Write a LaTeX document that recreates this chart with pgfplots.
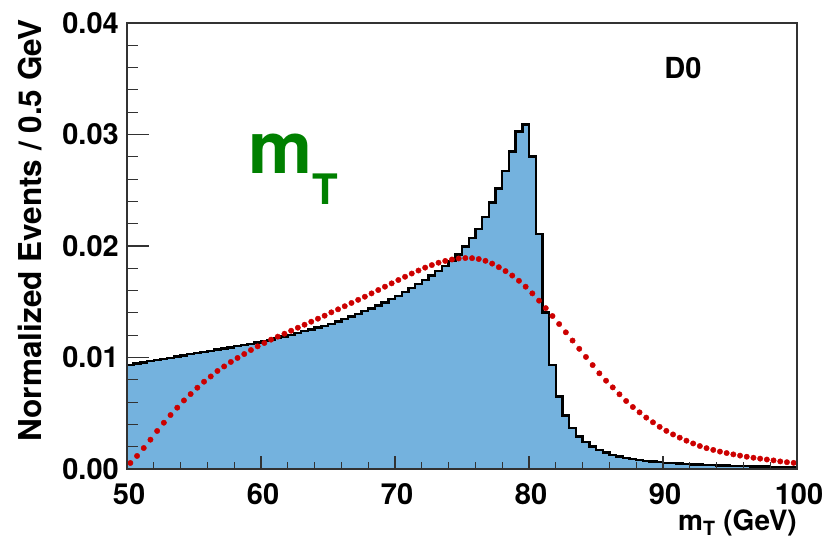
\documentclass[border=0pt]{standalone}
\usepackage{fontspec}
\setmainfont{TeX Gyre Heros}
\usepackage{pgfplots}
\usepackage{pgfplotstable}
\pgfplotsset{compat=1.18}

\definecolor{histblue}{RGB}{116,178,222}
\definecolor{dotred}{RGB}{204,0,0}
\definecolor{labelgreen}{RGB}{0,128,0}
\definecolor{tickgray}{RGB}{50,50,50}

\newcommand{\tickfont}{\fontsize{29bp}{32bp}\selectfont\bfseries}

% simulated m_T distribution, 0.5 GeV bins (left bin edge, content)
\pgfplotstableread{
x      y
50.0   0.00935
50.5   0.00945
51.0   0.00956
51.5   0.00966
52.0   0.00977
52.5   0.00988
53.0   0.00998
53.5   0.01009
54.0   0.01019
54.5   0.01030
55.0   0.01040
55.5   0.01050
56.0   0.01060
56.5   0.01070
57.0   0.01081
57.5   0.01091
58.0   0.01102
58.5   0.01112
59.0   0.01123
59.5   0.01134
60.0   0.01146
60.5   0.01159
61.0   0.01173
61.5   0.01188
62.0   0.01204
62.5   0.01220
63.0   0.01236
63.5   0.01252
64.0   0.01268
64.5   0.01284
65.0   0.01301
65.5   0.01322
66.0   0.01344
66.5   0.01367
67.0   0.01391
67.5   0.01416
68.0   0.01441
68.5   0.01467
69.0   0.01494
69.5   0.01522
70.0   0.01552
70.5   0.01586
71.0   0.01621
71.5   0.01657
72.0   0.01695
72.5   0.01735
73.0   0.01776
73.5   0.01820
74.0   0.01868
74.5   0.01925
75.0   0.01995
75.5   0.02070
76.0   0.02150
76.5   0.02260
77.0   0.02390
77.5   0.02514
78.0   0.02675
78.5   0.02849
79.0   0.03028
79.5   0.03088
80.0   0.02804
80.5   0.02107
81.0   0.01404
81.5   0.00935
82.0   0.00651
82.5   0.00481
83.0   0.00368
83.5   0.00293
84.0   0.00242
84.5   0.00203
85.0   0.00173
85.5   0.00149
86.0   0.00128
86.5   0.00112
87.0   0.00099
87.5   0.00089
88.0   0.00080
88.5   0.00073
89.0   0.00067
89.5   0.00061
90.0   0.00056
90.5   0.00052
91.0   0.00048
91.5   0.00045
92.0   0.00042
92.5   0.00039
93.0   0.00037
93.5   0.00035
94.0   0.00033
94.5   0.00031
95.0   0.00029
95.5   0.00027
96.0   0.00026
96.5   0.00024
97.0   0.00023
97.5   0.00022
98.0   0.00020
98.5   0.00019
99.0   0.00018
99.5   0.00017
100.0  0.00017
}\histtable

% smeared distribution, bin centres
\pgfplotstableread{
x      y
50.25  0.00054
50.75  0.00117
51.25  0.00188
51.75  0.00263
52.25  0.00341
52.75  0.00415
53.25  0.00484
53.75  0.00550
54.25  0.00615
54.75  0.00672
55.25  0.00729
55.75  0.00783
56.25  0.00830
56.75  0.00879
57.25  0.00920
57.75  0.00960
58.25  0.00996
58.75  0.01031
59.25  0.01067
59.75  0.01100
60.25  0.01130
60.75  0.01160
61.25  0.01187
61.75  0.01213
62.25  0.01240
62.75  0.01267
63.25  0.01294
63.75  0.01321
64.25  0.01348
64.75  0.01375
65.25  0.01405
65.75  0.01432
66.25  0.01460
66.75  0.01489
67.25  0.01517
67.75  0.01545
68.25  0.01575
68.75  0.01605
69.25  0.01635
69.75  0.01665
70.25  0.01695
70.75  0.01724
71.25  0.01753
71.75  0.01780
72.25  0.01806
72.75  0.01829
73.25  0.01850
73.75  0.01866
74.25  0.01879
74.75  0.01888
75.25  0.01892
75.75  0.01891
76.25  0.01883
76.75  0.01867
77.25  0.01842
77.75  0.01810
78.25  0.01775
78.75  0.01735
79.25  0.01688
79.75  0.01635
80.25  0.01575
80.75  0.01510
81.25  0.01443
81.75  0.01372
82.25  0.01300
82.75  0.01226
83.25  0.01152
83.75  0.01078
84.25  0.01005
84.75  0.00932
85.25  0.00858
85.75  0.00792
86.25  0.00732
86.75  0.00670
87.25  0.00610
87.75  0.00556
88.25  0.00508
88.75  0.00461
89.25  0.00419
89.75  0.00378
90.25  0.00342
90.75  0.00310
91.25  0.00281
91.75  0.00254
92.25  0.00229
92.75  0.00206
93.25  0.00187
93.75  0.00171
94.25  0.00156
94.75  0.00143
95.25  0.00131
95.75  0.00120
96.25  0.00110
96.75  0.00101
97.25  0.00093
97.75  0.00085
98.25  0.00077
98.75  0.00068
99.25  0.00061
99.75  0.00055
}\smeartable

\pgfplotsset{
  frame/.style={
    at={(0,0)}, anchor=south west,
    scale only axis, width=670bp, height=446bp,
    xmin=50, xmax=100, ymin=0, ymax=0.04,
    tick align=inside,
    xtick pos=left, ytick pos=left,
    axis line style={tickgray, line width=1.1bp},
    every tick/.style={tickgray, line width=1.1bp},
    scaled y ticks=false,
    /pgf/number format/assume math mode=true,
  },
}

\begin{document}
\begin{tikzpicture}
\useasboundingbox (-127bp,-70bp) rectangle (700bp,469bp);

% data and y axis ticks
\begin{axis}[frame,
  axis on top,
  xtick=\empty,
  ytick={0,0.01,0.02,0.03,0.04},
  minor y tick num=4,
  major tick length=22bp, minor tick length=11bp,
  yticklabel style={font=\tickfont, inner sep=0pt, xshift=-8bp,
    /pgf/number format/.cd, fixed, fixed zerofill, precision=2},
]
\addplot[fill=histblue, draw=none, const plot mark left] table {\histtable} \closedcycle;
\addplot[black, line width=2.4bp, const plot mark left, line join=miter] table {\histtable};
\addplot[only marks, mark=*, mark size=2.7bp, dotred, mark options={draw=none, fill=dotred}] table {\smeartable};
\end{axis}

% x axis ticks
\begin{axis}[frame,
  axis on top,
  ytick=\empty,
  xtick={50,60,70,80,90,100},
  minor x tick num=4,
  major tick length=13bp, minor tick length=7bp,
  xticklabel style={font=\tickfont, inner sep=0pt, yshift=-14bp, xshift=2bp},
]
\end{axis}

\node[rotate=90, anchor=north east, inner sep=0pt, font=\fontsize{31.5bp}{34bp}\selectfont\bfseries]
  at (-109bp,450bp) {Normalized Events / 0.5 GeV};
\node[anchor=base east, inner sep=0pt, font=\fontsize{28bp}{30bp}\selectfont\bfseries]
  at (670bp,-61bp) {m\textsubscript{T} (GeV)};
\node[anchor=center, inner sep=0pt, font=\fontsize{29bp}{30bp}\selectfont\bfseries]
  at (556bp,401bp) {D0};
\node[anchor=base west, inner sep=0pt, labelgreen, font=\fontsize{72bp}{76bp}\selectfont\bfseries]
  at (121bp,295bp) {m};
\node[anchor=base west, inner sep=0pt, labelgreen, font=\fontsize{42bp}{44bp}\selectfont\bfseries]
  at (185bp,264bp) {T};
\end{tikzpicture}
\end{document}
